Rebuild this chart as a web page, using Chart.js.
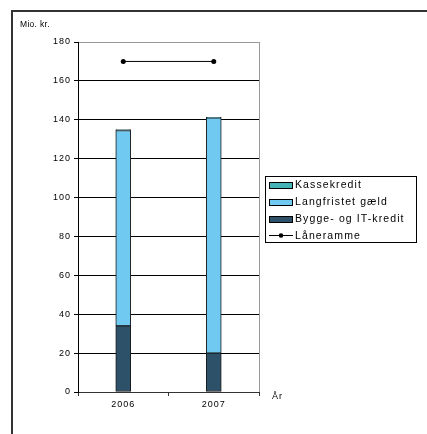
<!DOCTYPE html>
<html>
<head>
<meta charset="utf-8">
<script src="https://cdn.jsdelivr.net/npm/chart.js@4/dist/chart.umd.min.js"></script>
<style>
  html, body { margin: 0; padding: 0; background: #fff; }
  canvas { display: block; }
</style>
</head>
<body>
<canvas id="chart" width="427" height="434"></canvas>
<script>
// values (Mio. kr.)
const years = ['2006', '2007'];
const byggeIT = [34, 20];
const langfristet = [100.5, 121];
const kassekredit = [0.5, 0.3];
const laaneramme = [170, 170];

const yMax = 180;
const yStep = 20;

const colors = {
  kasse: '#45b4b9',
  lang: '#6fc9f0',
  bygge: '#2d5168',
  edge: '#1a1a1a'
};

// frame, axis captions, right border of plot and legend
const decorations = {
  id: 'decorations',
  beforeDraw(chart) {
    const ctx = chart.ctx;
    ctx.save();
    ctx.strokeStyle = '#333';
    ctx.lineWidth = 2;
    ctx.strokeRect(12, 11, 600, 600);
    ctx.restore();
    ctx.letterSpacing = '1px';
  },
  beforeDatasetsDraw(chart) {
    const { ctx, chartArea } = chart;
    ctx.save();
    ctx.strokeStyle = '#999';
    ctx.lineWidth = 1;
    ctx.beginPath();
    ctx.moveTo(Math.round(chartArea.right) + 0.5, chartArea.top);
    ctx.lineTo(Math.round(chartArea.right) + 0.5, chartArea.bottom);
    ctx.stroke();
    ctx.restore();
  },
  afterDraw(chart) {
    const ctx = chart.ctx;
    ctx.save();
    ctx.letterSpacing = '0.3px';
    ctx.fillStyle = '#000';
    ctx.textBaseline = 'middle';
    ctx.font = '8.5px "Liberation Sans", Arial, sans-serif';
    ctx.fillText('Mio. kr.', 20, 25);
    ctx.letterSpacing = '1px';
    ctx.font = '9px "Liberation Sans", Arial, sans-serif';
    ctx.fillText('År', 272, 397);

    // legend
    const lx = 265, ly = 176, lw = 151, lh = 66;
    ctx.fillStyle = '#fff';
    ctx.fillRect(lx, ly, lw, lh);
    ctx.strokeStyle = '#000';
    ctx.lineWidth = 1;
    ctx.strokeRect(lx + 0.5, ly + 0.5, lw, lh);

    const ds = chart.data.datasets;
    const order = [2, 1, 0, 3];
    ctx.font = '10.5px "Liberation Sans", Arial, sans-serif';
    ctx.letterSpacing = '1.1px';
    order.forEach((di, i) => {
      const d = ds[di];
      const cy = 185 + i * 16.8;
      if (d.type === 'line') {
        ctx.strokeStyle = '#000';
        ctx.beginPath();
        ctx.moveTo(269, Math.round(cy) + 0.5);
        ctx.lineTo(293, Math.round(cy) + 0.5);
        ctx.stroke();
        ctx.fillStyle = '#000';
        ctx.beginPath();
        ctx.arc(281, Math.round(cy) + 0.5, 2.3, 0, Math.PI * 2);
        ctx.fill();
      } else {
        ctx.fillStyle = d.backgroundColor;
        ctx.fillRect(269, Math.round(cy) - 3, 24, 6);
        ctx.strokeStyle = '#000';
        ctx.strokeRect(269.5, Math.round(cy) - 2.5, 23, 6);
      }
      ctx.fillStyle = '#000';
      ctx.fillText(d.label, 295, cy + 0.5);
    });
    ctx.restore();
  }
};

new Chart(document.getElementById('chart'), {
  type: 'bar',
  data: {
    labels: years,
    datasets: [
      {
        label: 'Bygge- og IT-kredit',
        data: byggeIT,
        backgroundColor: colors.bygge,
        borderColor: colors.edge,
        borderWidth: 1,
        borderSkipped: false,
        barThickness: 15,
        stack: 'debt'
      },
      {
        label: 'Langfristet gæld',
        data: langfristet,
        backgroundColor: colors.lang,
        borderColor: colors.edge,
        borderWidth: 1,
        borderSkipped: false,
        barThickness: 15,
        stack: 'debt'
      },
      {
        label: 'Kassekredit',
        data: kassekredit,
        backgroundColor: colors.kasse,
        borderColor: colors.edge,
        borderWidth: 1,
        borderSkipped: false,
        barThickness: 15,
        stack: 'debt'
      },
      {
        type: 'line',
        label: 'Låneramme',
        data: laaneramme,
        stack: 'limit',
        borderColor: '#000',
        borderWidth: 1,
        pointRadius: 2.5,
        pointBackgroundColor: '#000',
        pointBorderColor: '#000',
        pointBorderWidth: 0
      }
    ]
  },
  options: {
    responsive: false,
    animation: false,
    layout: {
      padding: { left: 0, top: 42, right: 168, bottom: 0 }
    },
    plugins: {
      legend: { display: false },
      tooltip: { enabled: false }
    },
    scales: {
      x: {
        stacked: true,
        offset: true,
        grid: {
          offset: true,
          drawOnChartArea: false,
          drawTicks: true,
          tickLength: 4,
          color: '#333'
        },
        border: { color: '#333', width: 1 },
        ticks: {
          color: '#000',
          padding: 3,
          font: { family: '"Liberation Sans", Arial, sans-serif', size: 9 }
        },
        afterFit(scale) { scale.height = 42; }
      },
      y: {
        stacked: true,
        min: 0,
        max: yMax,
        ticks: {
          stepSize: yStep,
          color: '#000',
          padding: 3,
          font: { family: '"Liberation Sans", Arial, sans-serif', size: 9 }
        },
        grid: {
          color: c => (c.tick && c.tick.value === yMax ? '#999' : '#000'),
          tickColor: '#000',
          tickLength: 4,
          lineWidth: 1
        },
        border: { color: '#000', width: 1 },
        afterFit(scale) { scale.width = 78; }
      }
    }
  },
  plugins: [decorations]
});
</script>
</body>
</html>
